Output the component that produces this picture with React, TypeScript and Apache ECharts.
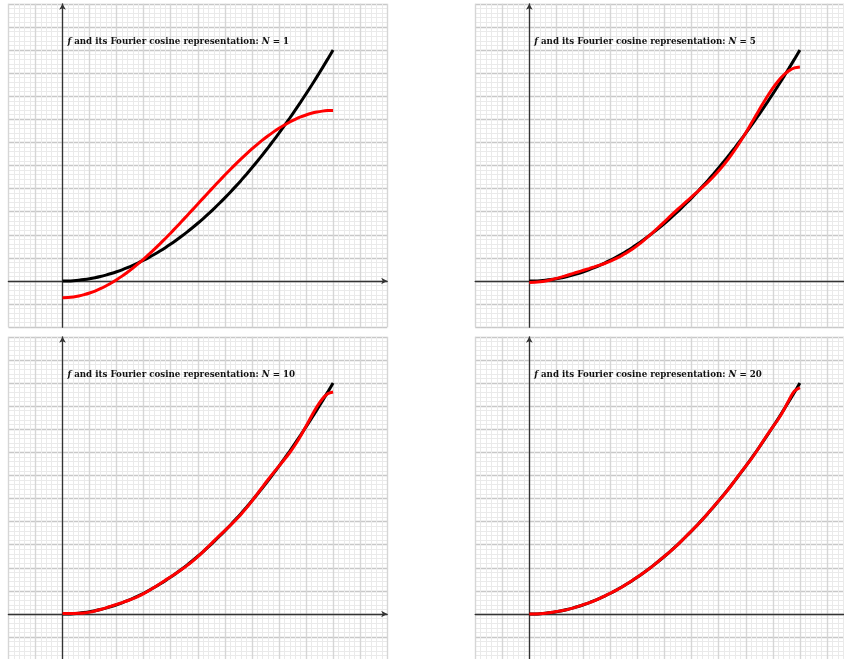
import React, { useEffect, useRef } from "react";
import * as echarts from "echarts";

// x sample positions (0 .. 1, step 0.02)
const xValues = [
  0, 0.02, 0.04, 0.06, 0.08, 0.1, 0.12, 0.14, 0.16, 0.18, 0.2, 0.22, 0.24, 0.26, 0.28, 0.3, 0.32,
  0.34, 0.36, 0.38, 0.4, 0.42, 0.44, 0.46, 0.48, 0.5, 0.52, 0.54, 0.56, 0.58, 0.6, 0.62, 0.64, 0.66,
  0.68, 0.7, 0.72, 0.74, 0.76, 0.78, 0.8, 0.82, 0.84, 0.86, 0.88, 0.9, 0.92, 0.94, 0.96, 0.98, 1,
];

// f(x) (black curve)
const fValues = [
  0, 0.0004, 0.0016, 0.0036, 0.0064, 0.01, 0.0144, 0.0196, 0.0256, 0.0324, 0.04, 0.0484, 0.0576,
  0.0676, 0.0784, 0.09, 0.1024, 0.1156, 0.1296, 0.1444, 0.16, 0.1764, 0.1936, 0.2116, 0.2304, 0.25,
  0.2704, 0.2916, 0.3136, 0.3364, 0.36, 0.3844, 0.4096, 0.4356, 0.4624, 0.49, 0.5184, 0.5476, 0.5776,
  0.6084, 0.64, 0.6724, 0.7056, 0.7396, 0.7744, 0.81, 0.8464, 0.8836, 0.9216, 0.9604, 1,
];

// Fourier cosine representations (red curves)
const n1Values = [
  -0.072, -0.0712, -0.0688, -0.0648, -0.0592, -0.0521, -0.0435, -0.0334, -0.0218, -0.0089, 0.0055,
  0.0211, 0.0379, 0.0559, 0.075, 0.0951, 0.1162, 0.1381, 0.1608, 0.1841, 0.2081, 0.2325, 0.2574,
  0.2825, 0.3079, 0.3333, 0.3588, 0.3841, 0.4093, 0.4341, 0.4586, 0.4825, 0.5059, 0.5286, 0.5505,
  0.5716, 0.5917, 0.6108, 0.6288, 0.6456, 0.6612, 0.6755, 0.6885, 0.7, 0.7102, 0.7188, 0.7259,
  0.7314, 0.7354, 0.7378, 0.7386,
];
const n5Values = [
  -0.0065, -0.0057, -0.0034, 0.0003, 0.0053, 0.0112, 0.0178, 0.0248, 0.032, 0.0392, 0.0464, 0.0536,
  0.0609, 0.0686, 0.0769, 0.0861, 0.0966, 0.1084, 0.1219, 0.1372, 0.1542, 0.1727, 0.1927, 0.2136,
  0.2353, 0.2573, 0.2794, 0.3011, 0.3225, 0.3435, 0.3642, 0.3849, 0.4061, 0.4281, 0.4515, 0.4769,
  0.5047, 0.5351, 0.5682, 0.6039, 0.6419, 0.6815, 0.7217, 0.7616, 0.7998, 0.835, 0.8661, 0.8917,
  0.9107, 0.9225, 0.9265,
];
const n10Values = [
  0.0018, 0.0018, 0.002, 0.0029, 0.0048, 0.0082, 0.0132, 0.0195, 0.0266, 0.0342, 0.0418, 0.0494,
  0.0574, 0.0662, 0.0764, 0.0882, 0.1016, 0.1162, 0.1313, 0.1466, 0.1617, 0.1769, 0.1926, 0.2094,
  0.228, 0.2484, 0.2703, 0.2932, 0.3163, 0.3391, 0.3615, 0.3839, 0.4071, 0.4321, 0.4594, 0.4889,
  0.5199, 0.5514, 0.5823, 0.6118, 0.6403, 0.6688, 0.6991, 0.7329, 0.7709, 0.8128, 0.8561, 0.897,
  0.931, 0.9535, 0.9614,
];
const n20Values = [
  0.0005, 0.0005, 0.0012, 0.0032, 0.0066, 0.0105, 0.0145, 0.0191, 0.0253, 0.0327, 0.0405, 0.0484,
  0.0571, 0.0673, 0.0788, 0.0905, 0.1023, 0.115, 0.1294, 0.1449, 0.1605, 0.1762, 0.193, 0.2115,
  0.231, 0.2505, 0.27, 0.2909, 0.3136, 0.3372, 0.3604, 0.3838, 0.4088, 0.4358, 0.4634, 0.4904,
  0.5175, 0.5466, 0.5781, 0.6098, 0.6403, 0.6709, 0.7044, 0.7408, 0.7767, 0.8097, 0.843, 0.8822,
  0.9268, 0.965, 0.9802,
];

const nLabels = [1, 5, 10, 20];
const redSeries = [n1Values, n5Values, n10Values, n20Values];

const panels = [
  { left: 8.4, top: 3.8 },
  { left: 475.2, top: 3.8 },
  { left: 8.4, top: 336.8 },
  { left: 475.2, top: 336.8 },
];
const W = 378.8;
const H = 323.4;

export default function App() {
  const ref = useRef<HTMLDivElement>(null);
  useEffect(() => {
    const chart = echarts.init(ref.current!, null, { renderer: "svg" });
    const axisCommon = {
      type: "value",
      min: -0.2,
      max: 1.2,
      interval: 0.1,
      axisLabel: { show: false },
      axisTick: { show: false },
      minorTick: { show: false, splitNumber: 5 },
      minorSplitLine: { show: true, lineStyle: { color: "#eaeaea", width: 1 } },
    };
    const series: any[] = [];
    redSeries.forEach((vals, i) => {
      series.push({
        type: "line", xAxisIndex: i, yAxisIndex: i, showSymbol: false, smooth: 0.3,
        lineStyle: { color: "#000", width: 3 },
        data: xValues.map((x, k) => [x, fValues[k]]),
      });
      series.push({
        type: "line", xAxisIndex: i, yAxisIndex: i, showSymbol: false, smooth: 0.3,
        lineStyle: { color: "#ff0000", width: 3 },
        data: xValues.map((x, k) => [x, vals[k]]),
      });
    });
    chart.setOption({
      animation: false,
      grid: panels.map((p) => ({ left: p.left, top: p.top, width: W, height: H })),
      xAxis: panels.map((_, i) => ({
        ...axisCommon, gridIndex: i,
        splitLine: { show: true, lineStyle: { color: "#d6d6d6", width: 1.4 } },
        axisLine: { show: true, onZero: true, symbol: ["none", "arrow"], symbolSize: [5, 6], lineStyle: { color: "#333", width: 1.3 } },
      })),
      yAxis: panels.map((_, i) => ({
        ...axisCommon, gridIndex: i,
        splitLine: { show: true, lineStyle: { color: "#c8c8c8", width: 1.3 } },
        axisLine: { show: true, onZero: true, symbol: ["none", "arrow"], symbolSize: [5, 6], lineStyle: { color: "#333", width: 1.3 } },
      })),
      title: panels.map((p, i) => ({
        text: `{i|f} and its Fourier cosine representation: {i|N} = ${nLabels[i]}`,
        left: p.left + 59,
        top: p.top + 33,
        padding: 0,
        textStyle: {
          fontFamily: "DejaVu Serif", fontWeight: "bold", fontSize: 8.7, color: "#111",
          rich: { i: { fontFamily: "DejaVu Serif", fontWeight: "bold", fontStyle: "italic", fontSize: 8.7, color: "#111" } },
        },
      })),
      series,
    });
    return () => chart.dispose();
  }, []);
  return (
    <div style={{ position: "fixed", left: 0, top: 0, width: 844, height: 659, overflow: "hidden" }}>
      <div ref={ref} style={{ position: "absolute", left: 0, top: 0, width: 880, height: 680 }} />
    </div>
  );
}
